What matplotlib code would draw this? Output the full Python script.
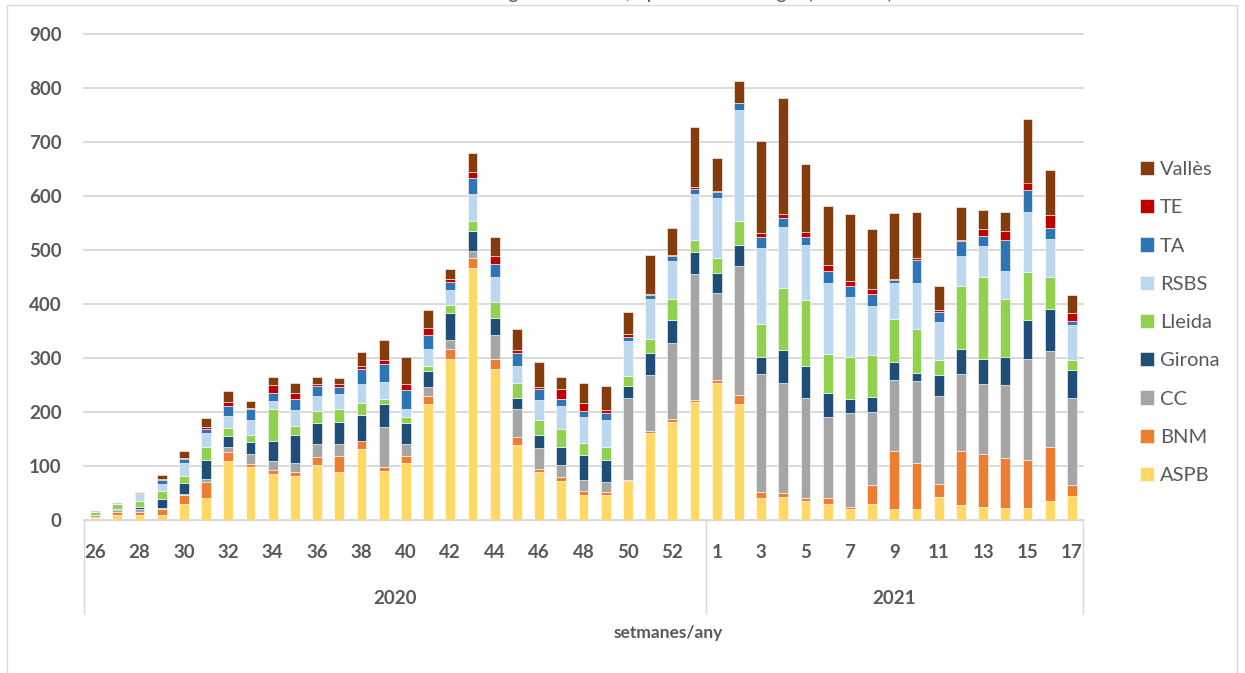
import matplotlib
matplotlib.use('Agg')
import matplotlib.pyplot as plt
import numpy as np
from matplotlib.patches import Rectangle
from matplotlib.transforms import blended_transform_factory

plt.rcParams['font.family'] = ['Lato', 'DejaVu Sans']

# weeks shown on the axis: 2020 wk 26-53, 2021 wk 1-17
weeks_2020 = list(range(26, 54))
weeks_2021 = list(range(1, 18))
years = ['2020', '2021']

aspb = [3, 10, 10, 9, 30, 40, 109, 98, 86, 82, 102, 88, 131, 90, 106, 215, 298, 467, 280, 138,
        88, 72, 46, 46, 73, 162, 182, 219,
        253, 215, 40, 43, 36, 30, 21, 30, 20, 20, 43, 28, 24, 22, 22, 35, 44]
bnm = [2, 5, 4, 12, 17, 31, 17, 5, 7, 7, 15, 30, 15, 8, 12, 14, 19, 19, 19, 15,
       7, 7, 8, 5, 2, 3, 5, 3,
       7, 17, 11, 7, 4, 10, 3, 34, 107, 85, 23, 99, 98, 93, 90, 100, 20]
cc = [4, 3, 6, 2, 2, 5, 10, 19, 17, 17, 23, 23, 1, 75, 23, 18, 16, 12, 44, 52,
      38, 23, 20, 20, 151, 104, 140, 233,
      160, 238, 220, 204, 186, 151, 174, 136, 133, 152, 164, 143, 130, 135, 186, 178, 162]
girona = [1, 2, 4, 16, 19, 36, 20, 22, 37, 52, 40, 41, 48, 41, 38, 29, 51, 38, 32, 21,
          24, 34, 47, 41, 23, 41, 43, 41,
          37, 40, 30, 61, 60, 45, 26, 28, 33, 16, 38, 46, 46, 51, 73, 78, 51]
lleida = [5, 10, 12, 15, 14, 23, 15, 13, 59, 16, 21, 24, 21, 11, 12, 9, 14, 18, 29, 27,
          28, 33, 22, 23, 17, 25, 40, 22,
          28, 43, 62, 114, 122, 72, 77, 78, 80, 80, 28, 118, 152, 109, 89, 59, 19]
rsbs = [3, 3, 12, 13, 23, 27, 22, 28, 14, 30, 28, 27, 36, 30, 15, 31, 28, 49, 46, 32,
        37, 43, 48, 51, 66, 75, 69, 85,
        111, 206, 141, 114, 101, 130, 112, 90, 66, 85, 70, 54, 57, 52, 110, 70, 65]
ta = [0, 0, 2, 7, 8, 7, 19, 20, 15, 20, 20, 13, 28, 33, 35, 27, 14, 31, 25, 25,
      20, 12, 11, 13, 6, 7, 10, 10,
      11, 13, 20, 16, 16, 23, 20, 23, 6, 43, 19, 29, 19, 57, 42, 21, 7]
te = [0, 0, 1, 2, 2, 4, 7, 2, 15, 11, 2, 5, 5, 8, 11, 13, 6, 10, 13, 4,
      5, 18, 14, 4, 7, 1, 1, 4,
      2, 0, 8, 8, 8, 12, 10, 8, 2, 4, 3, 1, 12, 17, 13, 23, 16]
valles = [0, 0, 1, 8, 13, 15, 20, 14, 15, 19, 13, 12, 26, 38, 49, 32, 19, 35, 36, 39,
          45, 22, 37, 45, 40, 73, 50, 110,
          61, 41, 169, 214, 127, 108, 123, 112, 121, 86, 46, 62, 36, 35, 117, 84, 32]

series = [
    ('ASPB', aspb, '#FFD966'),
    ('BNM', bnm, '#ED7D31'),
    ('CC', cc, '#A5A5A5'),
    ('Girona', girona, '#1F4E79'),
    ('Lleida', lleida, '#92D050'),
    ('RSBS', rsbs, '#BDD7EE'),
    ('TA', ta, '#2E75B6'),
    ('TE', te, '#C00000'),
    ('Vallès', valles, '#843C0C'),
]

txt = '#595959'
grid = '#d9d9d9'
W, H = 1245, 673

fig = plt.figure(figsize=(W / 100, H / 100), dpi=100)
fig.patches.append(Rectangle((7 / W, -0.02), 1230 / W, 1.02 - 5 / H, transform=fig.transFigure,
                             fill=False, edgecolor=grid, linewidth=1))

# chart title sits above the crop: only its descenders show
fig.text(622 / W, 1 + 1 / H, 'Casos declarats segons setmana, tipus de brot i regió (2020-21)',
         ha='center', va='baseline', fontsize=14, color=txt)

ax = fig.add_axes([84 / W, 153 / H, 999 / W, 486 / H])

all_weeks = weeks_2020 + weeks_2021
x = np.arange(len(all_weeks))
bottom = np.zeros(len(x))
handles = []
for name, vals, col in series:
    b = ax.bar(x, vals, 0.44, bottom=bottom, color=col, edgecolor='white',
               linewidth=0.4, label=name, zorder=3)
    handles.append(b)
    bottom += np.array(vals)

ax.set_xlim(-0.5, len(x) - 0.5)
ax.set_ylim(0, 900)
ax.set_yticks(range(0, 901, 100))
ax.set_xticks(x[::2])
ax.set_xticklabels([str(w) for w in all_weeks][::2])
ax.yaxis.grid(True, color=grid, linewidth=1.4, zorder=0)
ax.set_axisbelow(True)
for gl in ax.get_ygridlines():
    gl.set_clip_on(False)

for s in ['top', 'right', 'left']:
    ax.spines[s].set_visible(False)
ax.spines['bottom'].set_color(grid)
ax.spines['bottom'].set_linewidth(1)

ax.tick_params(axis='both', length=0, labelsize=13.5, labelcolor=txt)
ax.tick_params(axis='x', pad=17)
ax.tick_params(axis='y', pad=16)
for lbl in ax.get_xticklabels() + ax.get_yticklabels():
    lbl.set_fontweight('bold')

# second level of the category axis (years)
trans = blended_transform_factory(ax.transData, ax.transAxes)
n20 = len(weeks_2020)
for xs in [-0.5, n20 - 0.5, len(x) - 0.5]:
    ax.plot([xs, xs], [0, -0.191], transform=trans, color=grid, linewidth=1, clip_on=False)
ax.text((n20 - 1) / 2, -0.1605, years[0], transform=trans, ha='center', va='center',
        fontsize=13.5, fontweight='bold', color=txt)
ax.text((n20 + len(x) - 1) / 2, -0.1605, years[1], transform=trans, ha='center', va='center',
        fontsize=13.5, fontweight='bold', color=txt)

fig.text(668 / W, 1 - 633 / H, 'setmanes/any', ha='center', va='center',
         fontsize=12.5, fontweight='bold', color=txt)

leg = fig.legend(handles[::-1], [s[0] for s in series][::-1], loc='center left',
                 bbox_to_anchor=(1140 / W, 1 - 322.5 / H), frameon=False, fontsize=14.5,
                 handlelength=0.7, handleheight=0.7, handletextpad=0.3,
                 labelspacing=1.05, borderpad=0, borderaxespad=0)
for t in leg.get_texts():
    t.set_color(txt)

fig.savefig('out.png', dpi=100)
